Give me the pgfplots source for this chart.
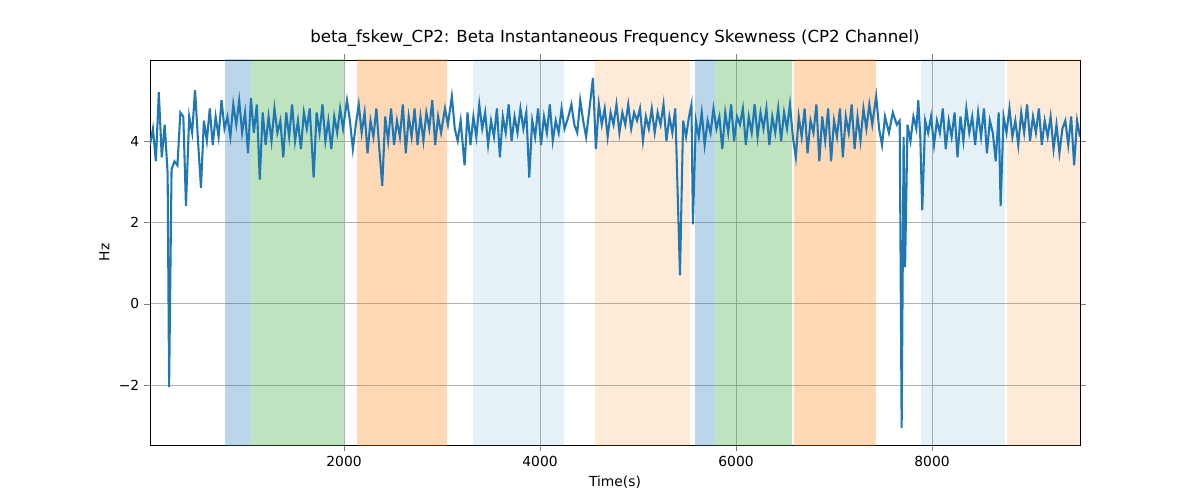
\documentclass[border=0pt]{standalone}
\usepackage{pgfplots}
\pgfplotsset{compat=1.18}
\usepackage{fontspec}
\setmainfont{DejaVu Sans}
\definecolor{tb}{HTML}{1F77B4}
\definecolor{tg}{HTML}{2CA02C}
\definecolor{to}{HTML}{FF7F0E}
\begin{document}
\begin{tikzpicture}
\path (-1.5in,-0.55in) rectangle (10.5in,4.45in);
\begin{axis}[at={(0,0)},anchor=south west,scale only axis,width=9.3in,height=3.85in,
xmin=20,xmax=9510,ymin=-3.47,ymax=5.99,
xtick={2000,4000,6000,8000},ytick={-2,0,2,4},
yticklabels={−2,0,2,4},
grid=major,grid style={color=black!31,line width=0.6pt},
font=\fontsize{10}{12}\selectfont,
/pgf/number format/assume math mode=true,
/pgf/number format/1000 sep={},
tick align=outside,
title={\fontsize{12}{14}\selectfont beta\_fskew\_CP2: Beta Instantaneous Frequency Skewness (CP2 Channel)},
xlabel={Time(s)},ylabel={Hz}]
\fill[tb,opacity=0.3] (axis cs:785,-10) rectangle (axis cs:1050,10);
\fill[tg,opacity=0.3] (axis cs:1050,-10) rectangle (axis cs:2000,10);
\fill[to,opacity=0.3] (axis cs:2132,-10) rectangle (axis cs:3050,10);
\fill[tb,opacity=0.11] (axis cs:3316,-10) rectangle (axis cs:4244,10);
\fill[to,opacity=0.16] (axis cs:4561,-10) rectangle (axis cs:5530,10);
\fill[tb,opacity=0.3] (axis cs:5581,-10) rectangle (axis cs:5785,10);
\fill[tg,opacity=0.3] (axis cs:5785,-10) rectangle (axis cs:6571,10);
\fill[to,opacity=0.3] (axis cs:6591,-10) rectangle (axis cs:7428,10);
\fill[tb,opacity=0.11] (axis cs:7887,-10) rectangle (axis cs:8744,10);
\fill[to,opacity=0.16] (axis cs:8765,-10) rectangle (axis cs:9510,10);
\addplot[tb,line width=1.5pt] coordinates {
(20,3.9)(50,4.3)(80,3.5)(110,5.2)(140,3.6)(170,4.4)(200,3.2)(215,-2.05)(240,3.3)(270,3.5)(300,3.4)(330,4.7)(360,4.6)(387,2.4)(420,4.6)(450,4.2)(480,5.25)(510,4.0)(540,2.85)(570,4.5)(600,4.0)(630,4.8)(660,3.9)(690,4.6)(720,4.1)(750,5.0)(780,4.3)(810,4.6)(840,4.1)(870,4.9)(900,4.4)(930,5.0)(960,4.2)(990,4.7)(1020,3.7)(1050,5.05)(1080,4.2)(1110,4.9)(1140,3.05)(1170,4.7)(1200,3.9)(1230,4.6)(1260,4.0)(1290,4.8)(1320,4.2)(1350,4.5)(1380,3.6)(1410,4.7)(1440,4.1)(1470,4.9)(1500,4.0)(1530,4.5)(1560,3.8)(1590,4.7)(1620,4.3)(1650,4.8)(1690,3.1)(1720,4.7)(1750,4.2)(1780,4.9)(1810,4.0)(1840,4.5)(1870,3.8)(1900,4.6)(1930,4.2)(1960,4.8)(1990,4.3)(2030,5.0)(2060,4.5)(2090,3.8)(2120,4.4)(2150,4.9)(2180,4.2)(2210,4.7)(2240,3.7)(2270,4.5)(2300,4.1)(2330,4.8)(2360,3.8)(2390,2.9)(2420,4.6)(2450,4.0)(2480,4.8)(2510,3.9)(2540,4.5)(2570,4.1)(2600,4.9)(2630,3.7)(2660,4.6)(2690,4.1)(2720,4.8)(2750,3.9)(2780,4.6)(2810,4.0)(2840,4.7)(2870,4.3)(2900,5.0)(2930,3.9)(2960,4.6)(2990,4.2)(3030,4.8)(3060,4.4)(3100,5.1)(3130,4.3)(3160,4.0)(3190,4.5)(3230,3.4)(3260,4.7)(3290,3.9)(3320,4.6)(3350,4.1)(3380,4.9)(3410,4.3)(3440,4.7)(3470,3.9)(3500,4.5)(3530,4.1)(3560,4.8)(3590,3.6)(3620,4.6)(3650,4.2)(3680,4.9)(3710,4.0)(3740,4.6)(3770,4.2)(3800,4.8)(3830,4.3)(3860,4.7)(3890,3.1)(3920,4.5)(3950,4.1)(3980,4.8)(4010,3.9)(4040,4.6)(4070,4.2)(4100,4.9)(4130,4.0)(4160,4.5)(4190,4.2)(4220,4.8)(4250,4.3)(4290,4.6)(4320,4.9)(4350,4.4)(4380,4.2)(4410,5.0)(4440,4.5)(4470,4.1)(4500,4.7)(4540,5.55)(4570,3.8)(4600,4.9)(4630,4.4)(4660,4.8)(4690,4.1)(4720,4.7)(4750,4.4)(4780,4.9)(4810,4.2)(4840,4.7)(4870,4.4)(4900,4.9)(4930,4.3)(4960,4.7)(4990,4.5)(5020,4.8)(5050,4.0)(5080,4.6)(5110,4.3)(5140,4.8)(5170,4.2)(5200,4.7)(5230,4.4)(5260,4.9)(5290,4.0)(5320,4.6)(5350,4.2)(5380,4.8)(5428,0.7)(5460,4.5)(5490,4.1)(5520,4.6)(5545,4.9)(5560,1.95)(5590,4.5)(5620,4.1)(5650,4.7)(5680,3.9)(5710,4.5)(5740,4.2)(5770,4.8)(5800,4.3)(5830,4.6)(5860,3.8)(5890,4.7)(5920,4.2)(5950,4.9)(5980,4.0)(6010,4.6)(6040,4.4)(6070,4.8)(6100,3.9)(6130,4.6)(6160,4.2)(6190,4.9)(6220,4.1)(6250,4.7)(6280,4.3)(6310,4.8)(6340,3.9)(6370,4.6)(6400,4.2)(6430,4.8)(6460,4.0)(6490,4.7)(6520,4.3)(6550,4.9)(6580,4.1)(6610,3.6)(6640,4.6)(6670,4.1)(6700,4.8)(6730,3.7)(6760,4.5)(6790,4.2)(6820,4.9)(6850,3.5)(6880,4.6)(6910,4.0)(6940,4.8)(6970,3.5)(7000,4.5)(7030,4.1)(7060,4.8)(7090,3.6)(7120,4.6)(7150,4.2)(7180,4.9)(7210,3.8)(7240,4.6)(7270,4.0)(7300,4.8)(7330,4.3)(7360,4.9)(7390,4.4)(7430,5.1)(7460,4.3)(7490,3.9)(7520,4.6)(7560,4.2)(7600,4.7)(7640,4.4)(7670,4.5)(7690,-3.05)(7710,4.1)(7725,0.9)(7750,4.4)(7780,4.0)(7810,4.6)(7840,4.3)(7860,5.0)(7880,4.1)(7900,2.3)(7930,4.5)(7960,4.2)(7990,4.6)(8020,3.9)(8050,4.5)(8080,4.2)(8110,4.8)(8140,3.8)(8170,4.5)(8200,4.1)(8230,4.7)(8260,3.6)(8290,4.6)(8320,4.0)(8350,4.8)(8380,4.2)(8410,4.6)(8440,3.9)(8470,4.7)(8500,4.1)(8530,4.8)(8560,3.7)(8590,4.5)(8620,4.2)(8650,3.5)(8680,4.7)(8700,2.4)(8730,4.6)(8760,4.2)(8790,4.8)(8820,4.1)(8850,4.5)(8880,3.9)(8910,4.7)(8940,4.2)(8970,4.9)(9000,4.0)(9030,4.6)(9060,4.2)(9090,4.8)(9120,3.9)(9150,4.5)(9180,4.1)(9210,4.6)(9240,3.8)(9270,4.4)(9300,3.7)(9330,4.3)(9360,4.5)(9390,3.9)(9420,4.6)(9450,3.4)(9480,4.5)(9510,4.1)};
\end{axis}
\end{tikzpicture}
\end{document}
